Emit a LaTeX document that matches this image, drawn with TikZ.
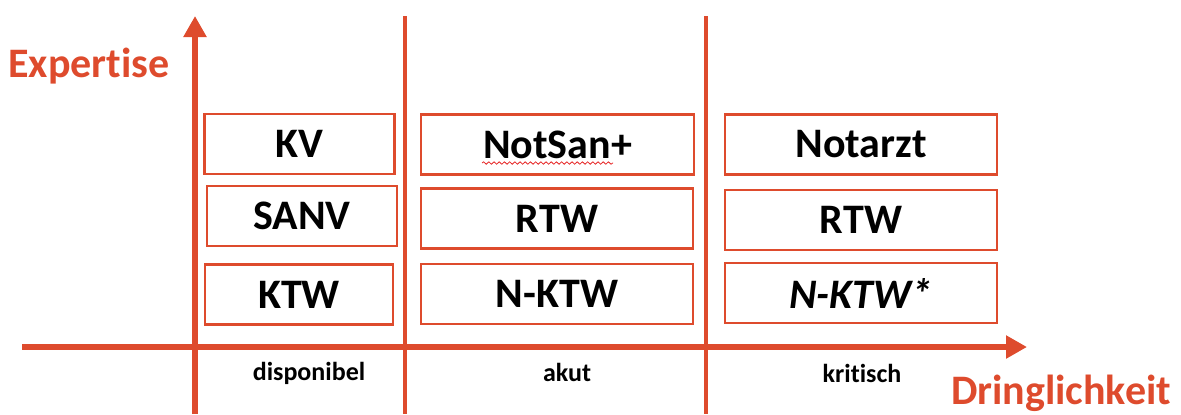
\documentclass[tikz,border=0pt]{standalone}
\usepackage{fontspec}
\setmainfont[Ligatures=NoCommon]{Carlito}
\usetikzlibrary{arrows.meta, decorations.pathmorphing}
\definecolor{axisred}{RGB}{222,75,45}
\definecolor{spellred}{RGB}{230,40,40}

\begin{document}
\begin{tikzpicture}[x=0.5pt, y=-0.5pt,
    axis/.style={line width=3pt, axisred, -{Triangle[length=10.5pt, width=11pt]}},
    divider/.style={line width=1.6pt, axisred},
    cell/.style={draw=axisred, line width=1.3pt, inner sep=0pt, minimum height=30pt,
      font=\fontsize{21}{25}\selectfont\bfseries},
    axislabel/.style={anchor=base, text=axisred, font=\fontsize{21}{25}\selectfont\bfseries},
    level/.style={anchor=base, font=\fontsize{13}{16}\selectfont\bfseries}]
  \useasboundingbox (0,0) rectangle (1181,414);

  % Trennlinien
  \coordinate (divAtop) at (405,16);
  \coordinate (divAbot) at (405,414);
  \coordinate (divBtop) at (706,16);
  \coordinate (divBbot) at (706,414);
  \draw[divider] (divAtop) -- (divAbot);
  \draw[divider] (divBtop) -- (divBbot);

  % Achsen
  \coordinate (yfoot) at (195,414);
  \coordinate (ytip) at (195,16);
  \coordinate (xfoot) at (22,347);
  \coordinate (xtip) at (1027,347);
  \draw[axis] (yfoot) -- (ytip);
  \draw[axis] (xfoot) -- (xtip);
  \node[axislabel] (expertise) at (89,77) {Expertise};
  \node[axislabel] (dringlichkeit) at (1061,404) {Dringlichkeit};

  % disponibel
  \node[cell, minimum width=95pt] (kv) at (299.5,144) {KV};
  \node[cell, minimum width=95pt] (sanv) at (302,216) {SANV};
  \node[cell, minimum width=94pt] (ktw) at (299,294.5) {KTW};
  \node[level] (disponibel) at (309,380) {disponibel};

  % akut
  \node[cell, minimum width=136.5pt] (notsan) at (557.5,144.5) {NotSan+};
  \node[cell, minimum width=136pt] (rtwakut) at (557,218.5) {RTW};
  \node[cell, minimum width=136pt] (nktw) at (557,294) {N-KTW};
  \node[level] (akut) at (567,381) {akut};
  \draw[spellred, line width=0.4pt, decorate,
    decoration={snake, amplitude=0.6pt, segment length=2.6pt}] (482,163) -- (613,163);

  % kritisch
  \node[cell, minimum width=136pt] (notarzt) at (861,144.5) {Notarzt};
  \node[cell, minimum width=136pt] (rtwkrit) at (861,220) {RTW};
  \node[cell, minimum width=136pt] (nktwstar) at (861,293) {\itshape N-KTW*};
  \node[level] (kritisch) at (862,382) {kritisch};
\end{tikzpicture}
\end{document}
